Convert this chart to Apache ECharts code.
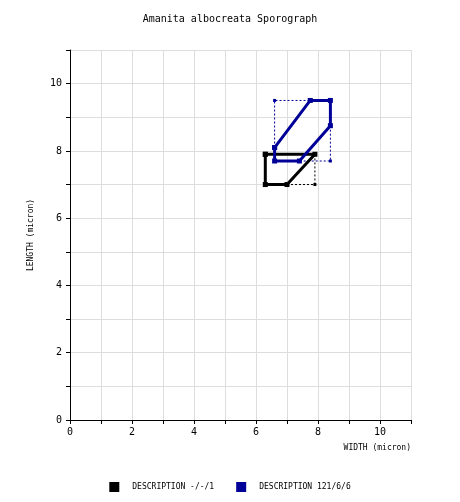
<!DOCTYPE html>
<html><head><meta charset="utf-8">
<script src="https://cdn.jsdelivr.net/npm/echarts@6/dist/echarts.min.js"></script>
<style>html,body{margin:0;padding:0;background:#fff}#c{width:460px;height:502px}</style>
</head><body><div id="c"></div>
<script>
const titleText = 'Amanita albocreata Sporograph';
const seriesNames = ['DESCRIPTION -/-/1', 'DESCRIPTION 121/6/6'];
const seriesColors = ['#000000', '#000099'];
// outline polygons [width, length]
const blackOutline = [[6.3, 7.9], [6.3, 7.0], [7.0, 7.0], [7.9, 7.9], [6.3, 7.9]];
const blackDotted = [[7.0, 7.0], [7.9, 7.0], [7.9, 7.9]];
const blueOutline = [[6.6, 8.1], [7.75, 9.5], [8.4, 9.5], [8.4, 8.75], [7.4, 7.7], [6.6, 7.7], [6.6, 8.1]];
const blueDotted1 = [[6.6, 8.1], [6.6, 9.5], [7.75, 9.5]];
const blueDotted2 = [[8.4, 8.75], [8.4, 7.7], [7.4, 7.7]];
const xName = 'WIDTH (micron)';
const yName = 'LENGTH (micron)';

const font = 'DejaVu Sans Mono';
const chart = echarts.init(document.getElementById('c'));
function dotted(data, color, name) {
  return {type: 'line', name: name + ' ', data: data, symbol: 'rect', symbolSize: 3,
    lineStyle: {color: color, width: 1, type: [2, 2]}, itemStyle: {color: color},
    silent: true, z: 1, animation: false};
}
chart.setOption({
  animation: false,
  title: {text: titleText, left: 'center', top: 9,
    textStyle: {fontFamily: font, fontSize: 10, fontWeight: 'normal', color: '#000'}},
  legend: {data: seriesNames, bottom: 5, left: 'center', icon: 'rect', itemWidth: 10, itemHeight: 10,
    itemGap: 22, textStyle: {fontFamily: font, fontSize: 8, color: '#000', padding: [0, 0, 0, 8]}},
  grid: {left: 70, right: 49, top: 50, bottom: 82},
  xAxis: {type: 'value', min: 0, max: 11, interval: 1,
    name: xName, nameLocation: 'end', nameGap: 0,
    nameTextStyle: {fontFamily: font, fontSize: 8, color: '#000', align: 'right', verticalAlign: 'top', padding: [24, 0, 0, 0]},
    axisLine: {show: true, lineStyle: {color: '#000', width: 1}},
    axisTick: {show: true, length: 4, lineStyle: {color: '#000'}},
    axisLabel: {fontFamily: font, fontSize: 10, color: '#000', margin: 7,
      formatter: v => (v % 2 === 0 ? String(v) : '')},
    splitLine: {show: true, lineStyle: {color: '#dddddd', width: 1}}},
  yAxis: {type: 'value', min: 0, max: 11, interval: 1,
    name: yName, nameLocation: 'middle', nameGap: 35,
    nameTextStyle: {fontFamily: font, fontSize: 8, color: '#000'},
    axisLine: {show: true, lineStyle: {color: '#000', width: 1}},
    axisTick: {show: true, length: 4, lineStyle: {color: '#000'}},
    axisLabel: {fontFamily: font, fontSize: 10, color: '#000', margin: 8,
      formatter: v => (v % 2 === 0 ? String(v) : '')},
    splitLine: {show: true, lineStyle: {color: '#dddddd', width: 1}}},
  series: [
    dotted(blackDotted, seriesColors[0], seriesNames[0]),
    dotted(blueDotted1, seriesColors[1], seriesNames[1]),
    dotted(blueDotted2, seriesColors[1], seriesNames[1]),
    {type: 'line', name: seriesNames[0], data: blackOutline, symbol: 'rect', symbolSize: 5,
      lineStyle: {color: seriesColors[0], width: 3}, itemStyle: {color: seriesColors[0]}, z: 3},
    {type: 'line', name: seriesNames[1], data: blueOutline, symbol: 'rect', symbolSize: 5,
      lineStyle: {color: seriesColors[1], width: 3}, itemStyle: {color: seriesColors[1]}, z: 3}
  ]
});
</script></body></html>
